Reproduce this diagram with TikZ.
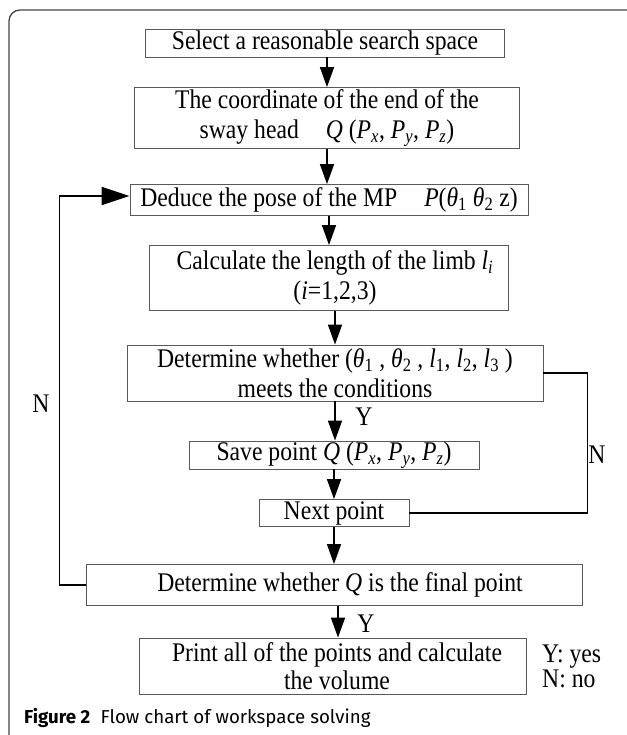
\documentclass[tikz,border=0pt]{standalone}
\usepackage{fontspec}
\setmainfont{Liberation Serif}[FakeStretch=0.88]
\newfontfamily\capfont{Fira Sans}
\usepackage{tikz}
\usetikzlibrary{arrows.meta}
\usetikzlibrary{positioning}
\definecolor{boxgray}{rgb}{0.35,0.35,0.35}
\definecolor{framegray}{rgb}{0.27,0.27,0.27}
\newcommand{\sP}[1]{\textit{P}\textsubscript{\textit{#1}}}
\newcommand{\sT}[1]{\textit{θ}\textsubscript{#1}}
\newcommand{\sL}[1]{\textit{l}\textsubscript{#1}}
\newcommand{\Qpoint}{\textit{Q} (\sP{x}, \sP{y}, \sP{z})}

\begin{document}
\begin{tikzpicture}[x=1bp, y=-1bp, % Pixel-Raster, y nach unten
  font=\fontsize{27}{30}\selectfont,
  box/.style={draw=boxgray, line width=0.9bp, inner sep=0pt, align=center},
  arr/.style={line width=1.6bp, -{Triangle[length=20bp, width=14bp]}},
  loop/.style={line width=1.8bp},
  lbl/.style={inner sep=1bp}]
\useasboundingbox (0,0) rectangle (627,735);
% Rahmen
\draw[framegray, line width=1.3bp, rounded corners=11bp] (9,735) -- (9,10) -- (627,10);
% Kästen
\node[box, minimum width=359bp, minimum height=28bp] (sel) at (325,43) {Select a reasonable search space};
\node[box, minimum width=385bp, minimum height=61bp] (coord) at (327,118) {The coordinate of the end of the\\sway head\quad \Qpoint};
\node[box, minimum width=398bp, minimum height=31bp] (pose) at (329,200) {Deduce the pose of the MP\quad \textit{P}(\sT{1} \sT{2} z)};
\node[box, minimum width=359bp, minimum height=65bp] (limb) at (329,278) {\hspace*{12bp}Calculate the length of the limb \sL{\textit{i}}\\\hspace*{12bp}(\textit{i}=1,2,3)};
\node[box, minimum width=416bp, minimum height=56bp] (check) at (335,373) {Determine whether (\sT{1} , \sT{2} , \sL{1}, \sL{2}, \sL{3} )\\meets the conditions};
\node[box, minimum width=290bp, minimum height=28bp] (save) at (334,455) {Save point \Qpoint};
\node[box, minimum width=150bp, minimum height=27bp] (next) at (334,513) {Next point};
\node[box, minimum width=496bp, minimum height=41bp] (final) at (334,585) {\hspace*{12bp}Determine whether \textit{Q} is the final point};
\node[box, minimum width=387bp, minimum height=56bp, font=\fontsize{27}{28}\selectfont] (print) at (333,666) {\hspace*{8bp}Print all of the points and calculate\\\hspace*{8bp}the volume};
% Pfeile
\draw[arr] (coord |- sel.south) -- (coord.north);
\draw[arr] (coord.south) -- (coord |- pose.north);
\draw[arr] (pose.south) -- (pose |- limb.north);
\draw[arr] (check |- limb.south) -- (check.north);
\draw[arr] (check.south) -- (check |- save.north);
\draw[arr] (save.south) -- (save |- next.north);
\draw[arr] (next.south) -- (next |- final.north);
\draw[arr] ([xshift=4bp]final.south) -- ([xshift=4bp]final.south |- print.north);
% Rückführungen
\draw[loop, -{Triangle[length=28bp, width=18bp]}] (final.west) -- ++(-26,0) |- ([yshift=4bp]pose.west);
\draw[loop] (check.east) -- ++(44,0) |- (next.east);
% Beschriftungen
\node[lbl] (nleft) at (41,404) {N};
\node[lbl] (nright) at (597,455) {N};
\node[lbl] (yone) at (364,417) {Y};
\node[lbl] (ytwo) at (366,624) {Y};
\node[lbl, anchor=west, align=left, font=\fontsize{27}{25}\selectfont] (legend) at (541,666) {Y: yes\\N: no};
% Titel
\node[anchor=base west, inner sep=0pt, font=\capfont\fontsize{18.8}{20}\selectfont] (caption) at (24,723) {\textbf{Figure 2}\hspace{0.55em}Flow chart of workspace solving};
\end{tikzpicture}
\end{document}
